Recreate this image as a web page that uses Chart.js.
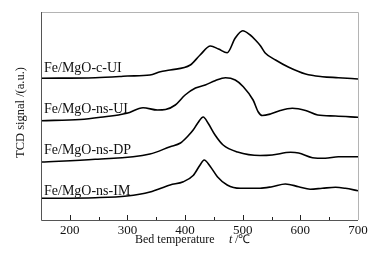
<!DOCTYPE html>
<html>
<head>
<meta charset="utf-8">
<script src="https://cdn.jsdelivr.net/npm/chart.js@4"></script>
<style>
  html, body { margin: 0; padding: 0; background: #fff; }
  #wrap { width: 389px; height: 263px; }
</style>
</head>
<body>
<div id="wrap"><canvas id="tpr"></canvas></div>
<script>
// bed temperature (℃) and TCD signal (a.u., offset curves)
const cUI_t = [150, 244, 287, 300, 339, 357, 374, 409, 426, 444, 458, 473, 487, 500, 513, 522, 531, 539, 557, 579, 609, 638, 666, 700];
const cUI_v = [141.7, 142.3, 143.5, 144, 145, 148.3, 150, 155, 165, 174, 171, 167.3, 182, 189.3, 185, 180, 174, 167, 160, 153, 146, 143.3, 142.3, 141];

const nsUI_t = [150, 218, 253, 299, 327, 352, 366, 383, 400, 418, 435, 452, 470, 487, 501, 518, 527, 534, 548, 565, 586, 609, 630, 661, 700];
const nsUI_v = [99.3, 100.5, 102.7, 106.7, 112.3, 110, 110.5, 115, 125, 132, 135, 139.3, 142.3, 140, 133.3, 120, 108, 104.5, 106, 109.5, 111.7, 109.5, 105, 104, 102.7];

const nsDP_t = [150, 244, 339, 374, 392, 405, 414, 422, 431.5, 440, 452, 466, 491, 530, 551, 583, 597, 621, 643, 666, 700];
const nsDP_v = [58, 60.7, 66, 73.3, 77, 84, 90, 97, 103, 96.7, 85, 75, 68, 64.5, 65, 67.7, 67, 62.3, 61.7, 63.3, 63.3];

const nsIM_t = [150, 244, 299, 339, 374, 397, 414, 426, 433, 444, 456, 473, 496, 530, 551, 574, 597, 617, 638, 661, 678, 700];
const nsIM_v = [21.7, 22.3, 24, 28, 35, 38.3, 44.5, 55, 60, 53.3, 43.3, 35, 31.7, 31.7, 33.3, 36, 33.3, 30.8, 31.7, 32.7, 31.7, 29.3];

const seriesNames = ['Fe/MgO-c-UI', 'Fe/MgO-ns-UI', 'Fe/MgO-ns-DP', 'Fe/MgO-ns-IM'];
const tickLabels = [200, 300, 400, 500, 600, 700];

const serif = '"Liberation Serif", "Times New Roman", serif';

function pts(t, v) { return t.map((x, i) => ({ x: x, y: v[i] })); }

const series = [[cUI_t, cUI_v], [nsUI_t, nsUI_v], [nsDP_t, nsDP_v], [nsIM_t, nsIM_v]];

// label anchors (y in signal units) for each curve name
const labelY = [152, 111, 70, 28.5];

const decor = {
  id: 'decor',
  afterDraw(chart) {
    const ctx = chart.ctx;
    const a = chart.chartArea;
    const xs = chart.scales.x;
    const ys = chart.scales.y;
    ctx.save();
    // top and right frame
    ctx.strokeStyle = '#b4b4b4';
    ctx.lineWidth = 1;
    ctx.beginPath();
    ctx.moveTo(a.left, a.top + 0.5);
    ctx.lineTo(a.right + 0.5, a.top + 0.5);
    ctx.lineTo(a.right + 0.5, a.bottom);
    ctx.stroke();
    // left and bottom axis
    ctx.strokeStyle = '#555';
    ctx.beginPath();
    ctx.moveTo(a.left + 0.5, a.top);
    ctx.lineTo(a.left + 0.5, a.bottom + 0.5);
    ctx.lineTo(a.right, a.bottom + 0.5);
    ctx.stroke();
    // inward ticks
    ctx.strokeStyle = '#222';
    for (let t = 200; t < 700; t += 50) {
      const px = Math.round(xs.getPixelForValue(t)) + 0.5;
      const len = (t % 100 === 0) ? 5 : 3;
      ctx.beginPath();
      ctx.moveTo(px, a.bottom);
      ctx.lineTo(px, a.bottom - len);
      ctx.stroke();
    }
    // curve names
    ctx.fillStyle = '#111';
    ctx.font = '14px ' + serif;
    ctx.textBaseline = 'middle';
    ctx.textAlign = 'left';
    seriesNames.forEach((n, i) => {
      ctx.fillText(n, a.left + 3, ys.getPixelForValue(labelY[i]));
    });
    // x title
    ctx.font = '12px ' + serif;
    ctx.fillText('Bed temperature', 135, 240);
    ctx.font = 'italic 12px ' + serif;
    ctx.fillText('t', 229, 240);
    ctx.font = '12px ' + serif;
    ctx.fillText(' /℃', 232, 240);
    // y title
    ctx.font = '12.5px ' + serif;
    ctx.translate(21, 112.5);
    ctx.rotate(-Math.PI / 2);
    ctx.textAlign = 'center';
    ctx.fillText('TCD signal /(a.u.)', 0, 0);
    ctx.restore();
  }
};

new Chart(document.getElementById('tpr'), {
  type: 'line',
  data: {
    datasets: series.map((s, i) => ({
      label: seriesNames[i],
      data: pts(s[0], s[1]),
      borderColor: '#000',
      borderWidth: 1.6,
      pointRadius: 0,
      cubicInterpolationMode: 'monotone',
      fill: false
    }))
  },
  options: {
    responsive: true,
    maintainAspectRatio: false,
    animation: false,
    layout: { padding: { top: 12, right: 31, left: 0, bottom: 0 } },
    plugins: { legend: { display: false }, tooltip: { enabled: false } },
    scales: {
      x: {
        type: 'linear',
        min: 150,
        max: 700,
        afterBuildTicks(scale) { scale.ticks = tickLabels.map(v => ({ value: v })); },
        ticks: { color: '#111', font: { family: serif, size: 13 }, padding: 3, maxRotation: 0 },
        grid: { display: false, drawTicks: false },
        border: { display: false },
        afterFit(scale) { scale.height = 43; }
      },
      y: {
        min: 0,
        max: 208,
        ticks: { display: false },
        grid: { display: false, drawTicks: false },
        border: { display: false },
        afterFit(scale) { scale.width = 41; }
      }
    }
  },
  plugins: [decor]
});
</script>
</body>
</html>
